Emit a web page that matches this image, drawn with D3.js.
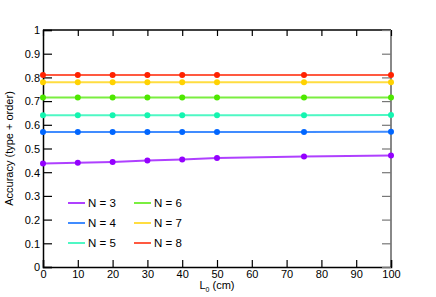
<!DOCTYPE html>
<html>
  <head>
    <style>
    body {
      font-family: "Liberation Sans", Arial, sans-serif;
      margin: 0;
      background: #fff;
    }
    </style>
  </head>
  <body>
    <script src="https://d3js.org/d3.v7.min.js"></script>
    <script>
    var width = 436, height = 297;

    var lengths = [0, 10, 20, 30, 40, 50, 75, 100];
    var seriesNames = ["N = 3", "N = 4", "N = 5", "N = 6", "N = 7", "N = 8"];
    var colors = ["#9400ff", "#0066ff", "#14f5b0", "#4ee800", "#ffd200", "#ff2200"];
    var n3 = [0.437, 0.440, 0.443, 0.449, 0.454, 0.460, 0.466, 0.470];
    var n4 = [0.570, 0.570, 0.570, 0.570, 0.570, 0.570, 0.570, 0.571];
    var n5 = [0.640, 0.640, 0.640, 0.640, 0.640, 0.640, 0.640, 0.641];
    var n6 = [0.715, 0.715, 0.715, 0.715, 0.715, 0.715, 0.715, 0.715];
    var n7 = [0.780, 0.780, 0.780, 0.780, 0.780, 0.780, 0.780, 0.780];
    var n8 = [0.810, 0.810, 0.810, 0.810, 0.810, 0.810, 0.810, 0.810];
    var xTicks = [0, 10, 20, 30, 40, 50, 60, 70, 80, 90, 100];
    var yTicks = [0, 0.1, 0.2, 0.3, 0.4, 0.5, 0.6, 0.7, 0.8, 0.9, 1];

    var allSeries = [n3, n4, n5, n6, n7, n8];

    var margin = {left: 43, right: 45, top: 30, bottom: 30};

    var x = d3.scaleLinear().domain([0, 100]).range([margin.left, width - margin.right]);
    var y = d3.scaleLinear().domain([0, 1]).range([height - margin.bottom, margin.top]);

    var svg = d3.select("body").append("svg")
        .attr("width", width)
        .attr("height", height)
        .style("font-family", "'Liberation Sans', Arial, sans-serif");

    // frame: right edge grey, others black
    svg.append("line")
        .attr("x1", x(100)).attr("x2", x(100))
        .attr("y1", y(0)).attr("y2", y(1))
        .attr("stroke", "#888").attr("stroke-width", 2);
    svg.append("line")
        .attr("x1", x(0)).attr("x2", x(100))
        .attr("y1", y(1)).attr("y2", y(1))
        .attr("stroke", "#000").attr("stroke-width", 1.5);

    // bottom axis
    var xAxis = svg.append("g")
        .attr("transform", "translate(0," + y(0) + ")")
        .call(d3.axisBottom(x).tickValues(xTicks).tickSize(-7).tickPadding(3).tickFormat(d3.format("d")));
    // top ticks
    svg.append("g")
        .attr("transform", "translate(0," + y(1) + ")")
        .call(d3.axisTop(x).tickValues(xTicks).tickSize(-6).tickFormat(""))
        .call(function(g){ g.select(".domain").remove(); });
    // left axis
    var yAxis = svg.append("g")
        .attr("transform", "translate(" + x(0) + ",0)")
        .call(d3.axisLeft(y).tickValues(yTicks).tickSize(-9).tickPadding(3)
          .tickFormat(function(d){ return d === 0 || d === 1 ? d3.format("d")(d) : d3.format(".1f")(d); }));
    // right ticks
    svg.append("g")
        .attr("transform", "translate(" + x(100) + ",0)")
        .call(d3.axisRight(y).tickValues(yTicks).tickSize(-9).tickFormat(""))
        .call(function(g){
          g.select(".domain").remove();
          g.selectAll("line").attr("stroke", "#777");
        });

    svg.selectAll(".domain").attr("stroke", "#000").attr("stroke-width", 1.5);
    svg.selectAll(".tick line").attr("stroke-width", 1.2);
    svg.selectAll(".tick text").attr("font-size", 11).attr("fill", "#000")
        .attr("font-family", "'Liberation Sans', Arial, sans-serif");
    yAxis.selectAll(".tick text").attr("dy", "0.35em");

    // series
    var line = d3.line()
        .x(function(d, i){ return x(lengths[i]); })
        .y(function(d){ return y(d); });

    allSeries.forEach(function(vals, k){
      svg.append("path")
          .datum(vals)
          .attr("d", line)
          .attr("fill", "none")
          .attr("stroke", colors[k])
          .attr("stroke-opacity", 0.75)
          .attr("stroke-width", 2);
      svg.selectAll(".pt" + k)
          .data(vals)
          .enter().append("circle")
          .attr("cx", function(d, i){ return x(lengths[i]); })
          .attr("cy", function(d){ return y(d); })
          .attr("r", 3)
          .attr("fill", colors[k]);
    });

    // legend
    var legend = svg.append("g");
    seriesNames.forEach(function(name, k){
      var col = Math.floor(k / 3), row = k % 3;
      var lx = 68 + col * 66, ly = 203 + row * 20;
      legend.append("line")
          .attr("x1", lx).attr("x2", lx + 17)
          .attr("y1", ly).attr("y2", ly)
          .attr("stroke", colors[k])
          .attr("stroke-opacity", 0.75)
          .attr("stroke-width", 2);
      legend.append("text")
          .attr("x", lx + 20).attr("y", ly)
          .attr("dy", "0.35em")
          .attr("font-size", 11.5)
          .text(name);
    });

    // axis labels
    var xl = svg.append("text")
        .attr("x", x(50)).attr("y", 289)
        .attr("text-anchor", "middle")
        .attr("font-size", 11);
    xl.append("tspan").text("L");
    xl.append("tspan").attr("font-size", 7).attr("dy", 3).text("0");
    xl.append("tspan").attr("dy", -3).text(" (cm)");

    svg.append("text")
        .attr("transform", "translate(13," + y(0.5) + ") rotate(-90)")
        .attr("text-anchor", "middle")
        .attr("font-size", 11)
        .text("Accuracy (type + order)");
    </script>
  </body>
</html>
